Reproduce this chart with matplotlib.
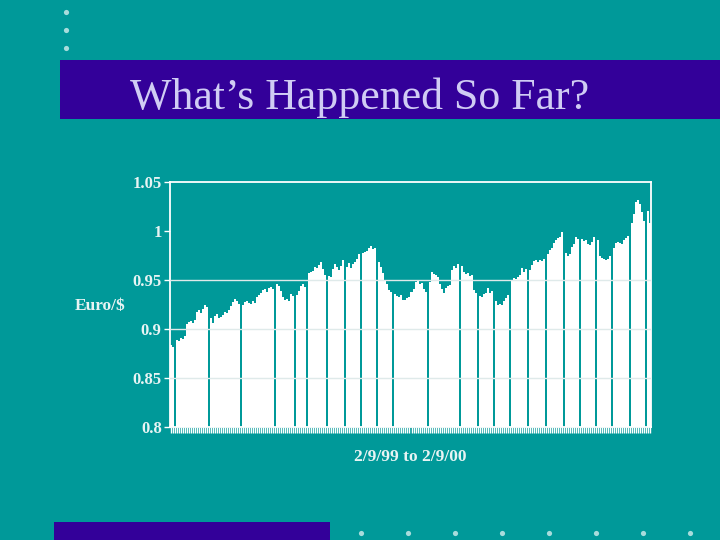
import matplotlib.pyplot as plt
import numpy as np

# daily Euro/$ quotes, 2/9/99 to 2/9/00
rates = [
    0.884, 0.882, 0.885, 0.889, 0.888, 0.891, 0.890, 0.893, 0.905, 0.907,
    0.908, 0.906, 0.909, 0.917, 0.919, 0.916, 0.920, 0.924, 0.922, 0.919,
    0.911, 0.906, 0.913, 0.915, 0.911, 0.912, 0.914, 0.917, 0.916, 0.919,
    0.923, 0.928, 0.931, 0.929, 0.926, 0.924, 0.925, 0.928, 0.929, 0.927,
    0.926, 0.929, 0.927, 0.933, 0.935, 0.937, 0.940, 0.941, 0.938, 0.942,
    0.943, 0.941, 0.945, 0.946, 0.944, 0.939, 0.933, 0.930, 0.931, 0.929,
    0.936, 0.934, 0.937, 0.935, 0.939, 0.944, 0.946, 0.943, 0.955, 0.957,
    0.958, 0.959, 0.963, 0.962, 0.965, 0.968, 0.961, 0.955, 0.952, 0.954,
    0.953, 0.961, 0.966, 0.963, 0.960, 0.964, 0.970, 0.967, 0.963, 0.967,
    0.962, 0.966, 0.968, 0.971, 0.977, 0.978, 0.978, 0.979, 0.980, 0.983,
    0.985, 0.982, 0.983, 0.982, 0.968, 0.963, 0.957, 0.950, 0.946, 0.940,
    0.938, 0.941, 0.936, 0.934, 0.933, 0.935, 0.930, 0.930, 0.932, 0.933,
    0.938, 0.941, 0.948, 0.950, 0.946, 0.947, 0.941, 0.938, 0.944, 0.948,
    0.958, 0.956, 0.955, 0.953, 0.946, 0.941, 0.937, 0.942, 0.944, 0.945,
    0.960, 0.964, 0.962, 0.966, 0.963, 0.964, 0.958, 0.956, 0.957, 0.954,
    0.955, 0.940, 0.937, 0.933, 0.934, 0.933, 0.936, 0.937, 0.942, 0.937,
    0.939, 0.928, 0.929, 0.924, 0.926, 0.925, 0.929, 0.932, 0.935, 0.938,
    0.950, 0.952, 0.951, 0.953, 0.955, 0.962, 0.958, 0.961, 0.959, 0.960,
    0.965, 0.969, 0.970, 0.968, 0.970, 0.969, 0.971, 0.974, 0.977, 0.981,
    0.983, 0.988, 0.991, 0.993, 0.994, 0.999, 0.996, 0.978, 0.975, 0.977,
    0.984, 0.987, 0.994, 0.992, 0.987, 0.992, 0.990, 0.991, 0.987, 0.986,
    0.989, 0.994, 0.993, 0.991, 0.974, 0.972, 0.971, 0.970, 0.971, 0.974,
    0.973, 0.983, 0.988, 0.989, 0.988, 0.987, 0.991, 0.993, 0.995, 0.998,
    1.008, 1.017, 1.030, 1.032, 1.028, 1.019, 1.010, 1.022, 1.020, 1.008,
]
# days with no quote (show up as thin gaps)
no_quote = [2, 19, 35, 52, 62, 68, 78, 87, 95, 103, 111, 128, 144, 153,
            161, 169, 178, 187, 196, 204, 212, 220, 229, 237]
y_ticks = [0.8, 0.85, 0.9, 0.95, 1, 1.05]
y_labels = ["0.8", "0.85", "0.9", "0.95", "1", "1.05"]
grid_levels = [0.85, 0.9, 0.95]

teal = "#009999"
purple = "#330099"
pale = "#e8f4f4"
serif = ["Liberation Serif", "DejaVu Serif"]

vals = np.array(rates, dtype=float)
vals[no_quote] = np.nan

fig = plt.figure(figsize=(7.2, 5.4), dpi=100, facecolor=teal)

# slide decoration in pixel coordinates
deco = fig.add_axes([0, 0, 1, 1])
deco.set_xlim(0, 720)
deco.set_ylim(540, 0)
deco.axis("off")
deco.add_patch(plt.Rectangle((60, 60), 660, 59, color=purple, lw=0))
deco.add_patch(plt.Rectangle((54, 522), 276, 18, color=purple, lw=0))
deco.scatter([66, 66, 66], [12, 30, 48], s=14, color="#a8dcdc", lw=0)
deco.scatter([361, 408, 455, 502, 549, 596, 643, 690], [533] * 8, s=14,
             color="#a8dcdc", lw=0)
deco.text(130, 98, "What\u2019s Happened So Far?", fontsize=31.6, color="#d0ccf4",
          family=serif, va="center", ha="left")

ax = fig.add_axes([170 / 720, 1 - 427 / 540, 481 / 720, 245 / 540])
ax.set_facecolor(teal)
x = np.arange(len(vals))
ax.bar(x, vals - 0.8, bottom=0.8, width=1.0, color="white", lw=0, zorder=2)
for g in grid_levels:
    ax.axhline(g, color="#dfeaea", lw=1.0, zorder=3)

ax.set_xlim(-0.5, len(vals) - 0.5)
ax.set_ylim(0.8, 1.05)
ax.set_yticks(y_ticks)
ax.set_yticklabels(y_labels)
ax.set_xticks(x)
ax.set_xticklabels([])
for s in ax.spines.values():
    s.set_color("white")
    s.set_linewidth(1.3)
ax.tick_params(axis="y", colors="white", length=4, width=1, labelcolor=pale,
               labelsize=12, pad=2)
ax.tick_params(axis="x", colors="white", length=4, width=1.0)
for lab in ax.get_yticklabels():
    lab.set_family(serif)
    lab.set_fontweight("bold")

ax.set_xlabel("2/9/99 to 2/9/00", family=serif, fontweight="bold",
              fontsize=12.5, color=pale, labelpad=8)
fig.text(100 / 720, 1 - 306 / 540, "Euro/$", family=serif, fontweight="bold",
         fontsize=12.5, color=pale, ha="center", va="center")

fig.savefig("out.png", dpi=100, facecolor=teal)
